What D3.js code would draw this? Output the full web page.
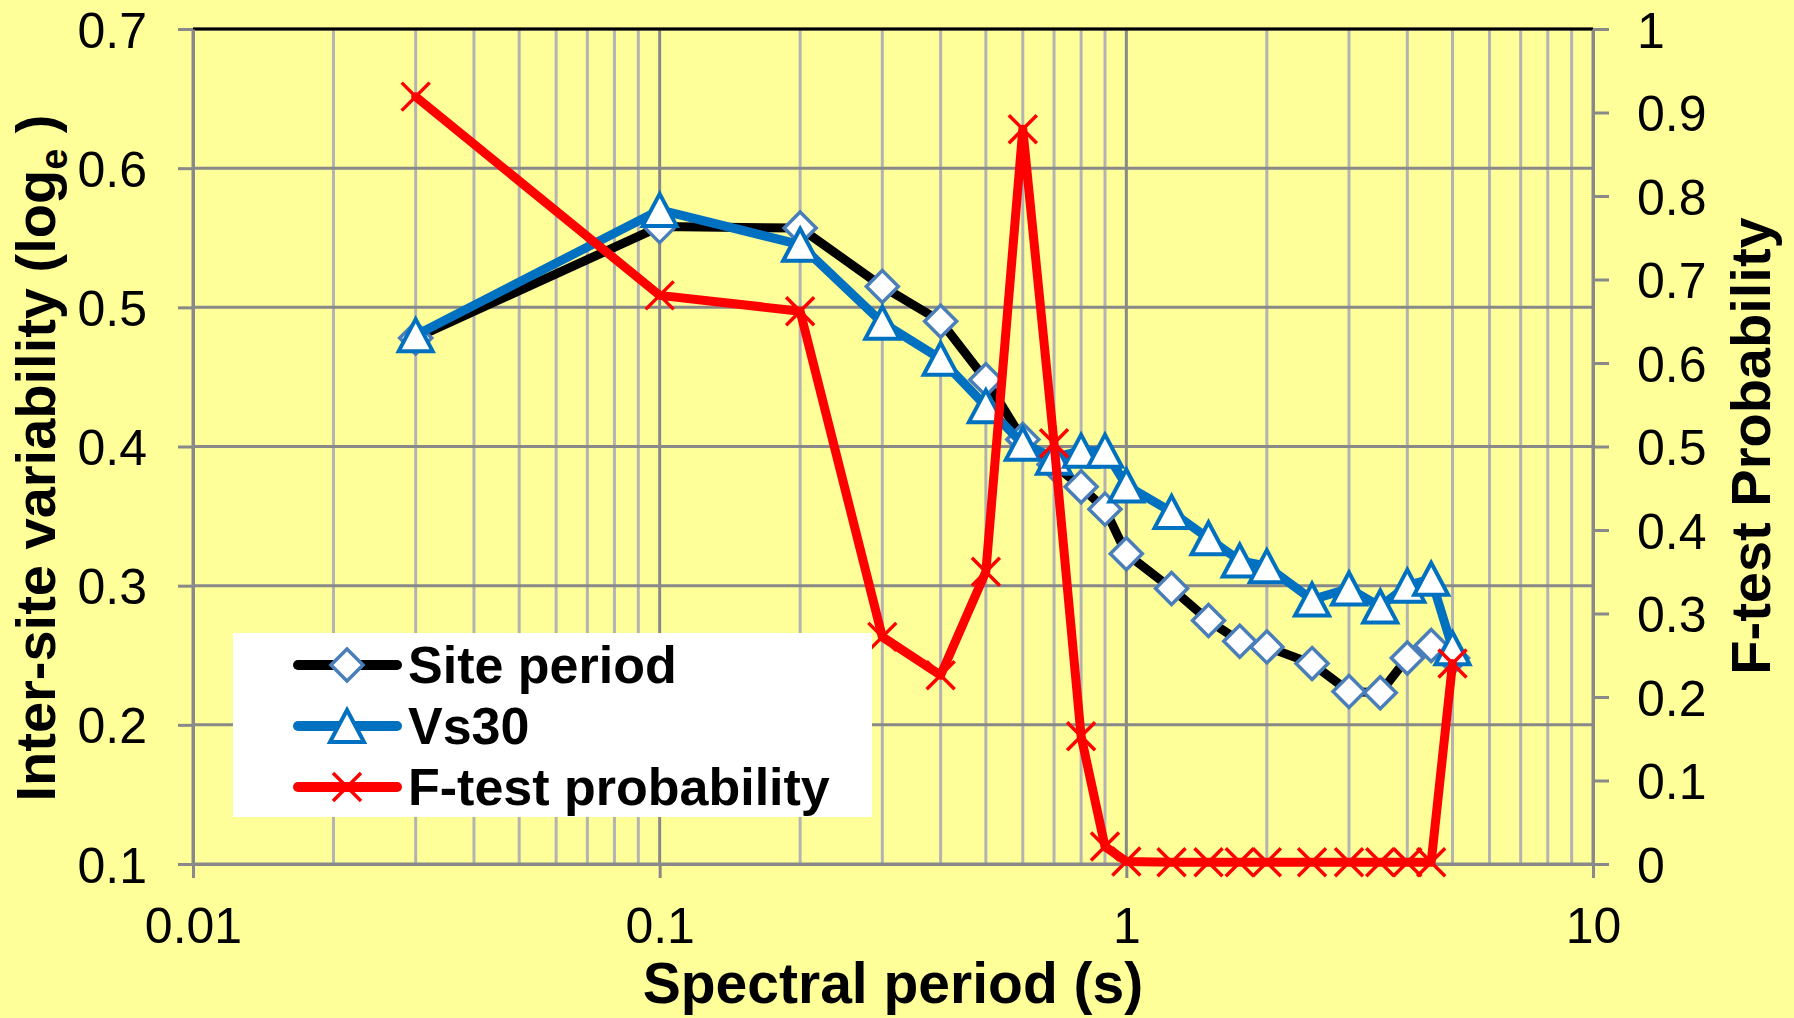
<!DOCTYPE html>
<html>
<head>
<meta charset="utf-8">
<script src="https://cdn.jsdelivr.net/npm/d3@7"></script>
<style>
  html, body { margin: 0; padding: 0; background: #FFFF99; }
  svg { display: block; font-family: "Liberation Sans", Arial, sans-serif; }
</style>
</head>
<body>
<svg width="1794" height="1018"></svg>
<script>
// spectral periods (s)
const periods = [0.03, 0.1, 0.2, 0.3, 0.4, 0.5, 0.6, 0.7, 0.8, 0.9, 1.0, 1.25, 1.5, 1.75, 2.0, 2.5, 3.0, 3.5, 4.0, 4.5, 5.0];
// inter-site variability, left axis
const sitePeriod = [0.478, 0.558, 0.557, 0.515, 0.490, 0.448, 0.405, 0.387, 0.371, 0.355, 0.323, 0.298, 0.275, 0.260, 0.256, 0.244, 0.224, 0.223, 0.248, 0.257, 0.248];
const vs30 = [0.480, 0.570, 0.545, 0.489, 0.463, 0.429, 0.402, 0.392, 0.397, 0.397, 0.372, 0.353, 0.334, 0.318, 0.314, 0.290, 0.298, 0.285, 0.300, 0.305, 0.255];
// F-test probability, right axis
const fTest = [0.919, 0.681, 0.662, 0.272, 0.226, 0.350, 0.880, 0.504, 0.153, 0.021, 0.003, 0.002, 0.002, 0.002, 0.002, 0.002, 0.002, 0.002, 0.002, 0.002, 0.240];

const xTicks = [0.01, 0.1, 1, 10];
const yLeftTicks = [0.1, 0.2, 0.3, 0.4, 0.5, 0.6, 0.7];
const yRightTicks = [0, 0.1, 0.2, 0.3, 0.4, 0.5, 0.6, 0.7, 0.8, 0.9, 1];

const svg = d3.select("svg");
const L = 193, R = 1593, T = 29, B = 864;

const x = d3.scaleLog().domain([0.01, 10]).range([L, R]);
const yL = d3.scaleLinear().domain([0.1, 0.7]).range([B, T]);
const yR = d3.scaleLinear().domain([0, 1]).range([B, T]);

svg.append("rect").attr("width", 1794).attr("height", 1018).attr("fill", "#FFFF99");

// minor vertical gridlines
const minor = x.ticks().filter(d => !xTicks.some(t => Math.abs(t - d) < 1e-9));
svg.append("g").selectAll("line").data(minor).join("line")
  .attr("x1", d => x(d)).attr("x2", d => x(d)).attr("y1", T).attr("y2", B)
  .attr("stroke", "#B3B3B3").attr("stroke-width", 3);

// major horizontal gridlines
svg.append("g").selectAll("line").data(yLeftTicks).join("line")
  .attr("x1", L).attr("x2", R).attr("y1", d => yL(d)).attr("y2", d => yL(d))
  .attr("stroke", "#898989").attr("stroke-width", 3);

// major vertical gridlines
svg.append("g").selectAll("line").data(xTicks).join("line")
  .attr("x1", d => x(d)).attr("x2", d => x(d)).attr("y1", T).attr("y2", B)
  .attr("stroke", "#898989").attr("stroke-width", 3);

// top border
svg.append("line").attr("x1", L).attr("x2", R).attr("y1", T).attr("y2", T)
  .attr("stroke", "#000").attr("stroke-width", 3);

// axes
const axisStyle = g => {
  g.selectAll(".domain").attr("stroke", "#898989").attr("stroke-width", 3);
  g.selectAll(".tick line").attr("stroke", "#898989").attr("stroke-width", 3);
  g.selectAll(".tick text").attr("fill", "#000").attr("font-size", 50);
};

svg.append("g").attr("transform", `translate(${L},0)`)
  .call(d3.axisLeft(yL).tickValues(yLeftTicks).tickSize(15).tickSizeOuter(0).tickPadding(31).tickFormat(d3.format(".1f")))
  .call(axisStyle)
  .call(g => g.selectAll(".tick text").attr("dy", "0.36em"));

svg.append("g").attr("transform", `translate(${R},0)`)
  .call(d3.axisRight(yR).tickValues(yRightTicks).tickSize(16).tickSizeOuter(0).tickPadding(28).tickFormat(d => d === 0 || d === 1 ? d3.format("d")(d) : d3.format(".1f")(d)))
  .call(axisStyle)
  .call(g => g.selectAll(".tick text").attr("dy", "0.36em"));

svg.append("g").attr("transform", `translate(0,${B})`)
  .call(d3.axisBottom(x).tickValues(xTicks).tickSize(14).tickSizeOuter(0).tickPadding(0).tickFormat(d => String(d)))
  .call(axisStyle)
  .call(g => g.selectAll(".tick text").attr("y", 79).attr("dy", 0));

// axis titles
svg.append("text").attr("x", 893).attr("y", 1003).attr("text-anchor", "middle")
  .attr("font-size", 57).attr("font-weight", "bold").text("Spectral period (s)");

const yt = svg.append("text").attr("transform", "translate(55,458) rotate(-90)")
  .attr("text-anchor", "middle").attr("font-size", 56).attr("font-weight", "bold");
yt.append("tspan").text("Inter-site variability (log");
yt.append("tspan").attr("font-size", 38).attr("dy", 12).text("e");
yt.append("tspan").attr("dy", -12).text(" )");

svg.append("text").attr("transform", "translate(1770,446) rotate(-90)")
  .attr("text-anchor", "middle").attr("font-size", 56).attr("font-weight", "bold").text("F-test Probability");

// markers
const diamond = (g, cx, cy) => g.append("path")
  .attr("d", `M${cx},${cy - 16}L${cx + 16},${cy}L${cx},${cy + 16}L${cx - 16},${cy}Z`)
  .attr("fill", "#fff").attr("stroke", "#4A7EBB").attr("stroke-width", 3.5);
const triangle = (g, cx, cy) => g.append("path")
  .attr("d", `M${cx},${cy - 16}L${cx + 17},${cy + 16}L${cx - 17},${cy + 16}Z`)
  .attr("fill", "#fff").attr("stroke", "#0070C0").attr("stroke-width", 4).attr("stroke-linejoin", "miter");
const cross = (g, cx, cy) => g.append("path")
  .attr("d", `M${cx - 14},${cy - 14}L${cx + 14},${cy + 14}M${cx + 14},${cy - 14}L${cx - 14},${cy + 14}`)
  .attr("stroke", "#FF0000").attr("stroke-width", 3.5).attr("fill", "none");

const series = [
  { name: "Site period", values: sitePeriod, y: yL, color: "#000000", marker: diamond },
  { name: "Vs30", values: vs30, y: yL, color: "#0070C0", marker: triangle },
  { name: "F-test probability", values: fTest, y: yR, color: "#FF0000", marker: cross }
];

series.forEach(s => {
  const g = svg.append("g");
  const line = d3.line().x((d, i) => x(periods[i])).y(d => s.y(d));
  g.append("path").attr("d", line(s.values)).attr("fill", "none")
    .attr("stroke", s.color).attr("stroke-width", 9)
    .attr("stroke-linejoin", "round").attr("stroke-linecap", "round");
  s.values.forEach((v, i) => s.marker(g, x(periods[i]), s.y(v)));
});

// legend
const lg = svg.append("g");
lg.append("rect").attr("x", 233).attr("y", 633).attr("width", 639).attr("height", 184).attr("fill", "#fff");
series.forEach((s, i) => {
  const cy = 665 + i * 61;
  lg.append("line").attr("x1", 298).attr("x2", 397).attr("y1", cy).attr("y2", cy)
    .attr("stroke", s.color).attr("stroke-width", 10).attr("stroke-linecap", "round");
  s.marker(lg, 347, cy);
  lg.append("text").attr("x", 408).attr("y", cy + 18).attr("font-size", 52)
    .attr("font-weight", "bold").text(s.name);
});
</script>
</body>
</html>
